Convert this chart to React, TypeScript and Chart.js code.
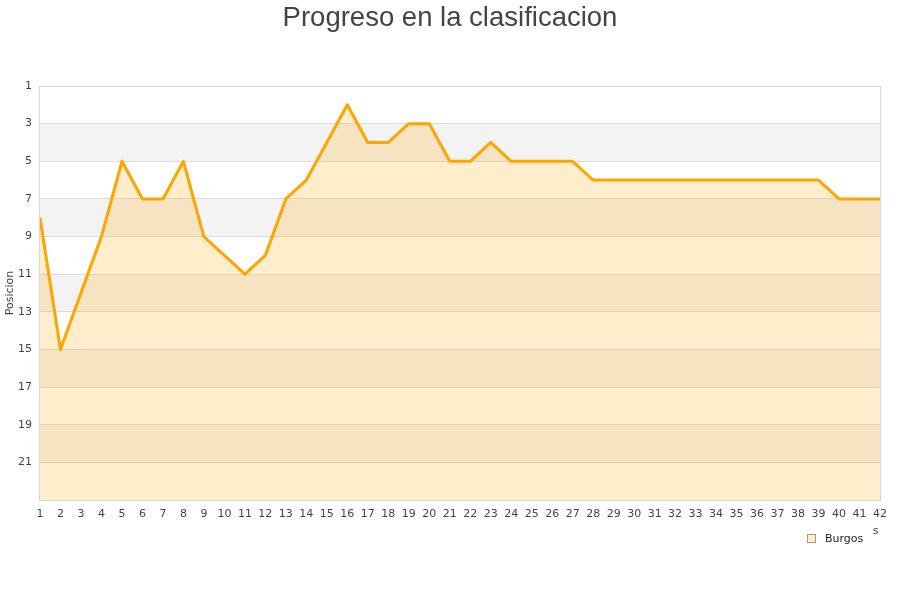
import React, { useEffect, useRef } from 'react';
import { Chart, registerables } from 'chart.js';

Chart.register(...registerables);

const titleText = 'Progreso en la clasificacion';
const yAxisTitle = 'Posicion';
const seriesName = 'Burgos';
const jornadas = ['1','2','3','4','5','6','7','8','9','10','11','12','13','14','15','16','17','18','19','20','21','22','23','24','25','26','27','28','29','30','31','32','33','34','35','36','37','38','39','40','41','42'];
const posiciones = [8,15,12,9,5,7,7,5,9,10,11,10,7,6,4,2,4,4,3,3,5,5,4,5,5,5,5,6,6,6,6,6,6,6,6,6,6,6,6,7,7,7];
const yTicks = [1,3,5,7,9,11,13,15,17,19,21];
const yMin = 1;
const yMax = 23;
const bands = [[3,5],[7,9],[11,13],[15,17],[19,21]];

export default function App() {
  const ref = useRef<HTMLCanvasElement | null>(null);

  useEffect(() => {
    document.body.style.margin = '0';
    const canvas = ref.current;
    if (!canvas) return;

    const decor = {
      id: 'decor',
      beforeDraw(chart: any) {
        const { ctx, chartArea } = chart;
        const y = chart.scales.y;
        ctx.save();
        ctx.fillStyle = '#f3f3f3';
        for (const [a, b] of bands) {
          const y1 = y.getPixelForValue(a);
          const y2 = y.getPixelForValue(b);
          ctx.fillRect(chartArea.left, y1, chartArea.right - chartArea.left, y2 - y1);
        }
        ctx.restore();
      },
      afterDraw(chart: any) {
        const { ctx, chartArea } = chart;
        ctx.save();
        ctx.strokeStyle = '#d6d6d6';
        ctx.lineWidth = 1;
        ctx.strokeRect(chartArea.left - 0.5, chartArea.top + 0.5, chartArea.right - chartArea.left + 1, chartArea.bottom - chartArea.top);
        // title
        ctx.fillStyle = '#444444';
        ctx.font = '27.5px "Liberation Sans", Arial, sans-serif';
        ctx.textAlign = 'center';
        ctx.textBaseline = 'alphabetic';
        ctx.fillText(titleText, 450, 26);
        // legend
        ctx.fillStyle = 'rgba(255,165,0,0.2)';
        ctx.fillRect(807.5, 534.5, 8, 8);
        ctx.strokeStyle = '#a89a80';
        ctx.strokeRect(807.5, 534.5, 8, 8);
        ctx.fillStyle = '#222';
        ctx.font = '11px "DejaVu Sans", sans-serif';
        ctx.textAlign = 'left';
        ctx.textBaseline = 'middle';
        ctx.fillText(seriesName, 825, 539);
        ctx.fillStyle = '#444';
        ctx.textAlign = 'center';
        ctx.fillText('s', 875.5, 531);
        ctx.restore();
      },
    };

    const chart = new Chart(canvas, {
      type: 'line',
      data: {
        labels: jornadas,
        datasets: [
          {
            label: seriesName,
            data: posiciones,
            borderColor: '#ffa500',
            backgroundColor: 'rgba(255,165,0,0.2)',
            borderWidth: 3,
            borderJoinStyle: 'round',
            pointRadius: 0,
            tension: 0,
            fill: { value: yMax },
          },
        ],
      },
      options: {
        animation: false,
        responsive: true,
        maintainAspectRatio: false,
        layout: { padding: { top: 86, right: 20, bottom: 70, left: 0 } },
        plugins: {
          legend: { display: false },
          title: { display: false },
          tooltip: { enabled: false },
        },
        scales: {
          x: {
            type: 'category',
            offset: false,
            grid: { display: false, drawTicks: false },
            border: { display: false },
            ticks: {
              color: '#444',
              font: { family: '"DejaVu Sans", sans-serif', size: 11 },
              padding: 8,
              maxRotation: 0,
              autoSkip: false,
            },
            afterFit: (s: any) => { s.height = 30; },
          },
          y: {
            type: 'linear',
            reverse: true,
            min: yMin,
            max: yMax,
            afterBuildTicks: (s: any) => { s.ticks = yTicks.map((v) => ({ value: v })); },
            grid: { color: '#dddddd', drawTicks: false },
            border: { display: false },
            ticks: {
              color: '#444',
              font: { family: '"DejaVu Sans", sans-serif', size: 11 },
              padding: 8,
            },
            title: {
              display: true,
              text: yAxisTitle,
              color: '#444',
              font: { family: '"DejaVu Sans", sans-serif', size: 11 },
              padding: { top: 4, bottom: 0 },
            },
            afterFit: (s: any) => { s.width = 40; },
          },
        },
      },
      plugins: [decor],
    });

    return () => chart.destroy();
  }, []);

  return (
    <div style={{ width: 900, height: 600, position: 'relative' }}>
      <canvas ref={ref} />
    </div>
  );
}
